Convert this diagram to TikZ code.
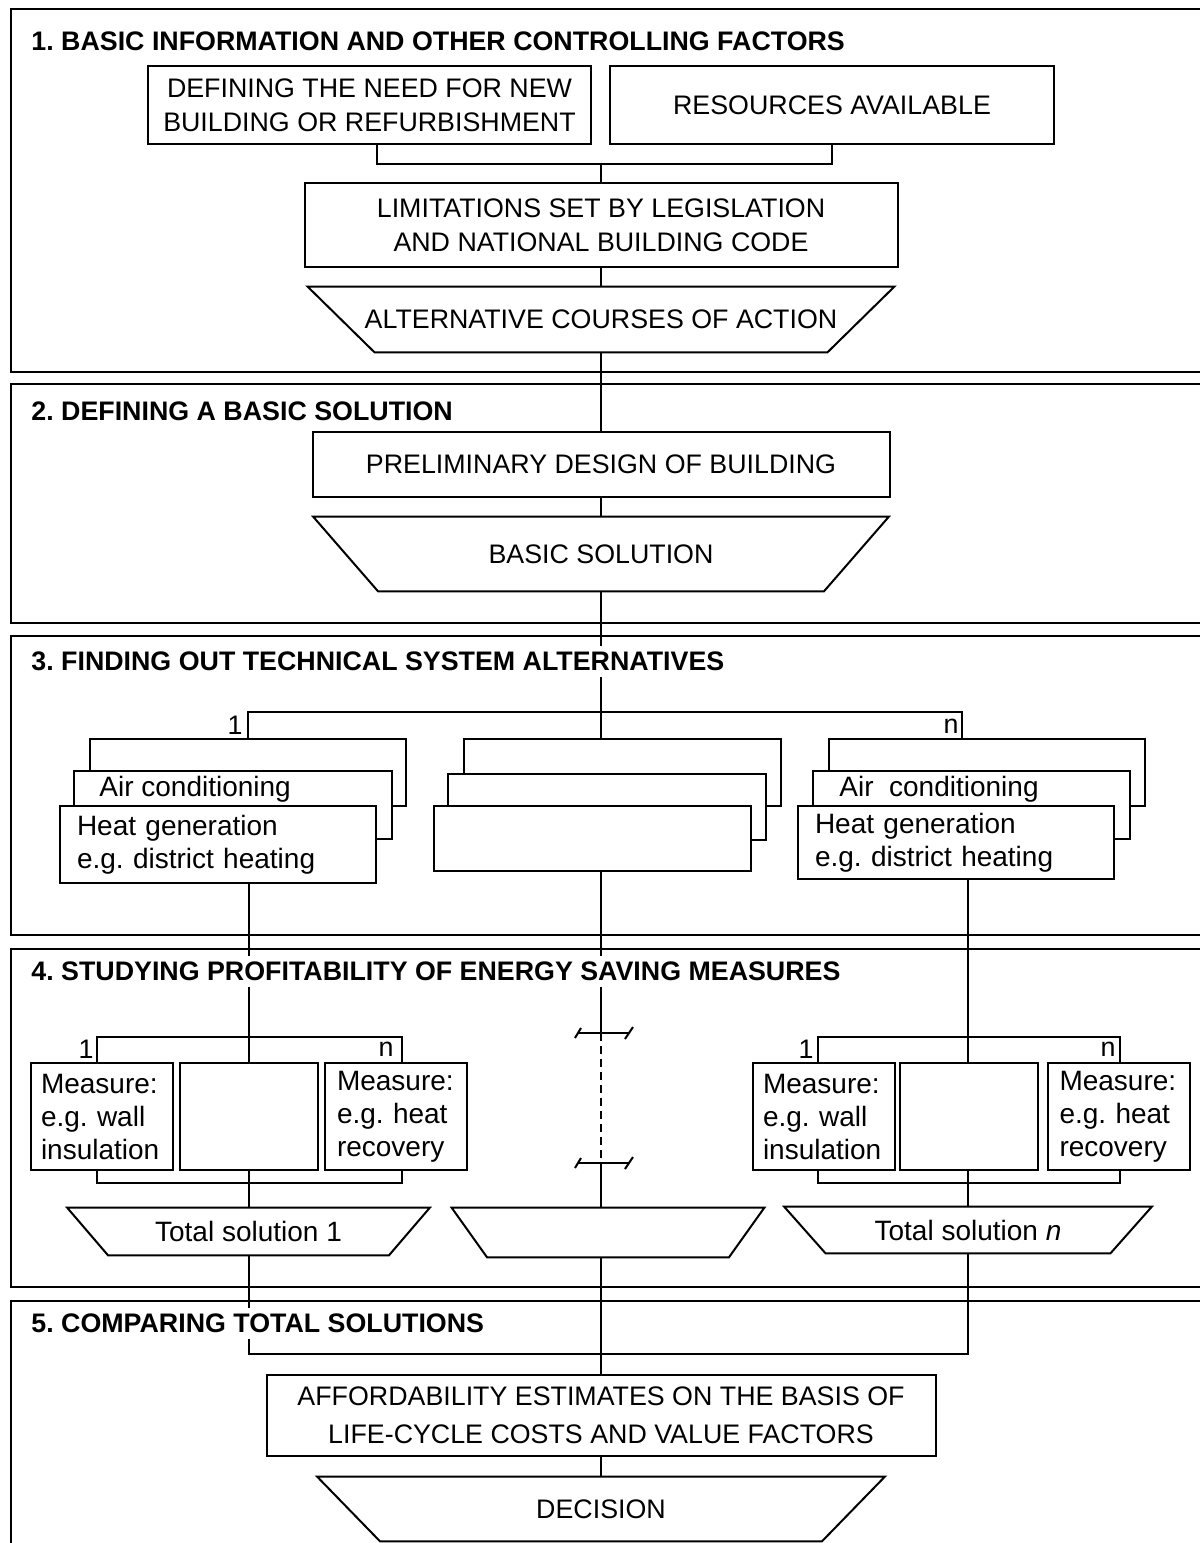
\documentclass[tikz,border=0pt]{standalone}
\usepackage{fontspec}
\setmainfont{Liberation Sans}
\frenchspacing
\usetikzlibrary{positioning}
\newcommand{\capsfnt}{\fontsize{13.4}{17}\selectfont}
\newcommand{\mixfnt}{\fontsize{14}{16.5}\selectfont}
\newcommand{\headfnt}{\bfseries\fontsize{13.4}{16}\selectfont}
\tikzstyle{wire} = [draw = black, line width = 1pt]
\tikzstyle{panel} = [draw = black, line width = 1.3pt]
\tikzstyle{box} = [rectangle, draw = black, line width = 1pt, fill = white,
  inner sep = 0, align = center, font = \capsfnt]
\tikzstyle{note} = [box, align = left, font = \mixfnt]
\tikzstyle{tray} = [rectangle, inner sep = 0, align = center, font = \capsfnt]
\tikzstyle{heading} = [rectangle, fill = white, anchor = west,
  inner xsep = 2pt, inner ysep = 3pt, font = \headfnt]
\tikzstyle{tag} = [inner sep = 1pt, anchor = east, font = \capsfnt]
\tikzstyle{inscr} = [inner sep = 1pt, anchor = west, font = \mixfnt]
\newcommand{\traydraw}[2]{\draw [wire] (#1.north west) -- (#1.north east) --
  ([xshift = -#2]#1.south east) -- ([xshift = #2]#1.south west) -- cycle;}
\newcommand{\cutmark}[1]{
  \draw [wire] ([xshift = -11.5pt]#1) -- ([xshift = 14pt]#1);
  \draw [wire] ([shift = {(-13pt, -2.5pt)}]#1) -- ([shift = {(-10pt, 2.5pt)}]#1);
  \draw [wire] ([shift = {(12pt, -3pt)}]#1) -- ([shift = {(16pt, 3pt)}]#1);}

\begin{document}
\begin{tikzpicture}[x = 0.5pt, y = -0.5pt]
  \useasboundingbox (0, 0) rectangle (1200, 1543);
  % panels
  \draw [panel] (11, 9) rectangle (1215, 372);
  \draw [panel] (11, 384) rectangle (1215, 623);
  \draw [panel] (11, 636) rectangle (1215, 935);
  \draw [panel] (11, 949) rectangle (1215, 1287);
  \draw [panel] (11, 1301) rectangle (1215, 1560);

  % 1. basic information
  \node [box, minimum width = 221.5pt, minimum height = 39pt] (need) at (369.5, 105)
    {DEFINING THE NEED FOR NEW\\BUILDING OR REFURBISHMENT};
  \node [box, minimum width = 222pt, minimum height = 39pt] (resources) at (832, 105)
    {RESOURCES AVAILABLE};
  \node [box, minimum width = 296.5pt, minimum height = 42pt] (limits) at (601, 225)
    {LIMITATIONS SET BY LEGISLATION\\AND NATIONAL BUILDING CODE};
  \node [tray, minimum width = 293pt, minimum height = 32.5pt] (courses) at (601, 319.5)
    {ALTERNATIVE COURSES OF ACTION};
  \traydraw{courses}{33.5pt}
  \coordinate (j1) at (601, 164);
  \draw [wire] ([xshift = 3.75pt]need.south) |- (j1) -| (resources.south);
  \draw [wire] (j1) -- (limits.north);
  \draw [wire] (limits.south) -- (courses.north);

  % 2. basic solution
  \node [box, minimum width = 288.5pt, minimum height = 32.5pt] (prelim) at (601, 464.5)
    {PRELIMINARY DESIGN OF BUILDING};
  \node [tray, minimum width = 287.5pt, minimum height = 37pt] (basic) at (601, 554)
    {BASIC SOLUTION};
  \traydraw{basic}{32.5pt}
  \draw [wire] (courses.south) -- (prelim.north);
  \draw [wire] (prelim.south) -- (basic.north);

  % 3. technical systems
  \node [box, minimum width = 158pt, minimum height = 33.5pt] (backL) at (248, 772.5) {};
  \node [box, minimum width = 159pt, minimum height = 34pt] (airL) at (233, 805) {};
  \node [inscr] (airtxtL) at (97, 789) {Air conditioning};
  \node [note, text width = 141pt, inner xsep = 8.5pt, minimum height = 38.5pt]
    (heatL) at (218, 844.5) {Heat generation\\e.g. district heating};

  \node [box, minimum width = 158.5pt, minimum height = 33.5pt] (backM) at (622.5, 772.5) {};
  \node [box, minimum width = 159pt, minimum height = 33pt] (airM) at (607, 807) {};
  \node [box, minimum width = 158.5pt, minimum height = 32.5pt] (heatM) at (592.5, 838.5) {};

  \node [box, minimum width = 158pt, minimum height = 33.5pt] (backR) at (987, 772.5) {};
  \node [box, minimum width = 158.5pt, minimum height = 34pt] (airR) at (971.5, 805) {};
  \node [inscr] (airtxtR) at (837, 789) {Air\ \ conditioning};
  \node [note, text width = 141pt, inner xsep = 8.5pt, minimum height = 36.5pt]
    (heatR) at (956, 842.5) {Heat generation\\e.g. district heating};

  \coordinate (j3) at (601, 712);
  \draw [wire] (basic.south) -- (j3) -- (j3 |- backM.north);
  \draw [wire] (backL.north) |- (j3) -| ([xshift = -12.5pt]backR.north);
  \node [tag] (oneA) at (245, 725) {1};
  \node [tag] (nA) at (961, 726) {n};

  % 4. energy saving measures
  \node [note, text width = 61pt, inner xsep = 5pt, minimum height = 53.5pt]
    (wallL) at (102, 1116.5) {Measure:\\e.g. wall\\insulation};
  \node [box, minimum width = 69pt, minimum height = 53.5pt] (blankL) at (248.5, 1116.5) {};
  \node [note, text width = 59pt, inner xsep = 6pt, minimum height = 53.5pt]
    (recL) at (396, 1116.5) {Measure:\\e.g. heat\\recovery};
  \coordinate (j4L) at (248.5, 1037);
  \coordinate (k4L) at (248.5, 1183);
  \draw [wire] (heatL.south -| j4L) -- (blankL.north);
  \draw [wire] ([xshift = -2.5pt]wallL.north) |- (j4L) -| ([xshift = 3pt]recL.north);
  \draw [wire] ([xshift = -2.5pt]wallL.south) |- (k4L) -| ([xshift = 3pt]recL.south);
  \node [tag] (oneL) at (96, 1049) {1};
  \node [tag] (nL) at (396, 1049) {n};
  \node [tray, font = \mixfnt, minimum width = 181pt, minimum height = 23.5pt]
    (totalL) at (248.5, 1231.5) {Total solution 1};
  \traydraw{totalL}{20.5pt}
  \draw [wire] (blankL.south) -- (totalL.north);

  \node [note, text width = 61pt, inner xsep = 5pt, minimum height = 53.5pt]
    (wallR) at (824, 1116.5) {Measure:\\e.g. wall\\insulation};
  \node [box, minimum width = 69pt, minimum height = 53.5pt] (blankR) at (969, 1116.5) {};
  \node [note, text width = 59pt, inner xsep = 6pt, minimum height = 53.5pt]
    (recR) at (1118.5, 1116.5) {Measure:\\e.g. heat\\recovery};
  \coordinate (j4R) at (968, 1037);
  \coordinate (k4R) at (968, 1183);
  \draw [wire] (heatR.south -| j4R) -- (j4R |- blankR.north);
  \draw [wire] ([xshift = -3pt]wallR.north) |- (j4R) -| ([xshift = 0.75pt]recR.north);
  \draw [wire] ([xshift = -3pt]wallR.south) |- (k4R) -| ([xshift = 0.75pt]recR.south);
  \node [tag] (oneR) at (816, 1049) {1};
  \node [tag] (nR) at (1118, 1049) {n};
  \node [tray, font = \mixfnt, minimum width = 183.5pt, minimum height = 23pt]
    (totalR) at (968, 1230) {Total solution \textit{n}};
  \traydraw{totalR}{20.75pt}
  \draw [wire] (blankR.south -| k4R) -- (totalR.north);

  \coordinate (cut1) at (601, 1033);
  \coordinate (cut2) at (601, 1163);
  \node [tray, minimum width = 156pt, minimum height = 24.5pt] (totalM) at (608, 1232.5) {};
  \traydraw{totalM}{17.75pt}
  \draw [wire] (heatM.south -| cut1) -- (cut1);
  \draw [wire, dash pattern = on 4pt off 2.5pt] (cut1) -- (cut2);
  \draw [wire] (cut2) -- (cut2 |- totalM.north);
  \cutmark{cut1}
  \cutmark{cut2}

  % 5. comparing
  \node [box, font = \fontsize{13.4}{19}\selectfont, minimum width = 334.5pt,
    minimum height = 40.5pt] (afford) at (601, 1415.5)
    {AFFORDABILITY ESTIMATES ON THE BASIS OF\\LIFE-CYCLE COSTS AND VALUE FACTORS};
  \node [tray, minimum width = 283.5pt, minimum height = 32pt] (decision) at (601, 1509)
    {DECISION};
  \traydraw{decision}{31.5pt}
  \coordinate (j5) at (601, 1354);
  \draw [wire] (totalL.south) |- (j5) -| (totalR.south);
  \draw [wire] (totalM.south -| cut2) -- (afford.north);
  \draw [wire] (afford.south) -- (decision.north);

  % headings
  \node [heading] (head1) at (27, 41) {1. BASIC INFORMATION AND OTHER CONTROLLING FACTORS};
  \node [heading] (head2) at (27, 411) {2. DEFINING A BASIC SOLUTION};
  \node [heading] (head3) at (27, 661) {3. FINDING OUT TECHNICAL SYSTEM ALTERNATIVES};
  \node [heading] (head4) at (27, 971) {4. STUDYING PROFITABILITY OF ENERGY SAVING MEASURES};
  \node [heading] (head5) at (27, 1323) {5. COMPARING TOTAL SOLUTIONS};
\end{tikzpicture}
\end{document}
